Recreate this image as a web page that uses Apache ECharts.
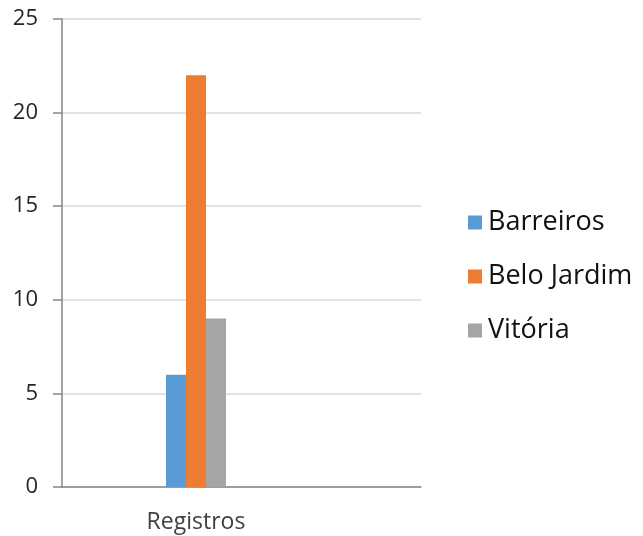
<!DOCTYPE html>
<html><head><meta charset="utf-8">
<script src="https://cdn.jsdelivr.net/npm/echarts@6/dist/echarts.min.js"></script>
<style>html,body{margin:0;padding:0;background:#fff}#c{width:643px;height:536px}</style>
</head><body><div id="c"></div>
<script>
const categories = ['Registros'];
const seriesNames = ['Barreiros', 'Belo Jardim', 'Vitória'];
const barreiros = [6];
const beloJardim = [22];
const vitoria = [9];
const yTicks = [0, 5, 10, 15, 20, 25];
const colors = ['#5B9BD5', '#ED7D31', '#A5A5A5'];

const values = [barreiros, beloJardim, vitoria];
const font = 'Open Sans';
const chart = echarts.init(document.getElementById('c'), null, {renderer: 'canvas'});
chart.setOption({
  animation: false,
  color: colors,
  textStyle: {fontFamily: font},
  grid: [
    {left: 62, right: 222, top: 19, bottom: 49, containLabel: false},
    {left: 62, width: 268, top: 19, bottom: 49, containLabel: false}
  ],
  xAxis: [
    {gridIndex: 0, type: 'category', data: [''], axisLine: {lineStyle: {color: '#868686', width: 1.5}},
     axisTick: {show: false}, axisLabel: {show: false}},
    {gridIndex: 1, type: 'category', data: categories, axisLine: {show: false},
     axisTick: {show: false}, axisLabel: {color: '#404040', fontSize: 23, fontFamily: font, margin: 24}}
  ],
  yAxis: [
    {gridIndex: 0, type: 'value', min: yTicks[0], max: yTicks[yTicks.length - 1], interval: yTicks[1] - yTicks[0],
     axisLine: {show: true, lineStyle: {color: '#868686', width: 1.5}},
     axisTick: {show: true, length: 9, lineStyle: {color: '#868686', width: 1.5}},
     axisLabel: {color: '#262626', fontSize: 22, fontFamily: font, margin: 24},
     splitLine: {lineStyle: {color: '#D9D9D9', width: 1.5}}},
    {gridIndex: 1, type: 'value', min: yTicks[0], max: yTicks[yTicks.length - 1], interval: yTicks[1] - yTicks[0],
     show: false, splitLine: {show: false}}
  ],
  legend: {
    orient: 'vertical', left: 463, top: 204, itemWidth: 14, itemHeight: 14, itemGap: 27,
    icon: 'rect', data: seriesNames,
    textStyle: {color: '#111', fontSize: 27, lineHeight: 26, fontFamily: font, padding: [0, 0, 0, 1]}
  },
  series: seriesNames.map((n, i) => ({
    name: n, type: 'bar', xAxisIndex: 1, yAxisIndex: 1, data: values[i],
    barWidth: 20, barGap: '0%', itemStyle: {color: colors[i]}
  }))
});
</script></body></html>
